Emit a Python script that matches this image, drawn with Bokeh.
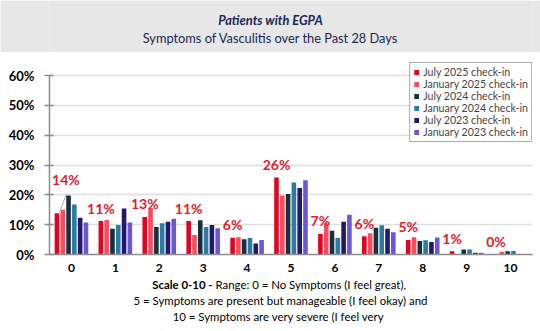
import numpy as np
from bokeh.plotting import figure
from bokeh.layouts import column
from bokeh.models import (FixedTicker, PrintfTickFormatter, Range1d, Legend, LegendItem)
from bokeh.core.properties import value
from bokeh.embed import file_html
from bokeh.resources import INLINE

# ---------------- data ----------------
scale_points = ["0", "1", "2", "3", "4", "5", "6", "7", "8", "9", "10"]
series_names = ["July 2025 check-in", "January 2025 check-in", "July 2024 check-in",
                "January 2024 check-in", "July 2023 check-in", "January 2023 check-in"]
july_2025 = [13.8, 11.2, 12.6, 11.2, 5.6, 25.8, 6.9, 6.1, 4.9, 1.1, 0.0]
january_2025 = [15.0, 11.6, 15.7, 6.5, 5.8, 19.8, 10.5, 7.1, 5.8, 0.0, 0.9]
july_2024 = [19.8, 8.6, 9.2, 11.5, 5.1, 20.3, 8.0, 9.0, 4.5, 1.7, 1.1]
january_2024 = [16.8, 9.9, 10.5, 9.2, 5.5, 24.1, 5.5, 9.8, 4.8, 1.7, 1.2]
july_2023 = [12.3, 15.4, 11.0, 9.9, 3.7, 22.3, 11.0, 8.6, 4.2, 0.6, 0.0]
january_2023 = [10.7, 10.7, 12.0, 8.8, 4.9, 24.9, 13.3, 7.5, 5.7, 0.6, 0.0]
y_ticks = [0, 10, 20, 30, 40, 50, 60]

title_text = "Patients with EGPA"
subtitle_text = "Symptoms of Vasculitis over the Past 28 Days"
footer_bold = "Scale 0-10 -"
footer_line1 = "Range: 0 = No Symptoms (I feel great),"
footer_line2 = "5 = Symptoms are present but manageable (I feel okay) and"
footer_line3 = "10 = Symptoms are very severe (I feel very"

# ---------------- style ----------------
FONT = "Lato"
colors = ["#e8001f", "#ff4a5c", "#17303d", "#2a7ca6", "#25186a", "#6b57d6"]
label_color = "#e0202e"
axis_color = "#8c8c8c"
W = 540
HDR_H, MAIN_H, FTR_H = 52, 226, 53
FRAME_L, FRAME_R = 49, 532   # plot frame edges (px); column layouts align all frames

# ---------------- header ----------------
hdr = figure(width=W, height=HDR_H, x_range=Range1d(FRAME_L, FRAME_R), y_range=Range1d(0, HDR_H),
             x_axis_type=None, y_axis_type=None, toolbar_location=None,
             output_backend="svg", min_border=0)
hdr.grid.visible = False
hdr.background_fill_color = "#e7e7e7"
hdr.border_fill_color = "#e7e7e7"
hdr.outline_line_color = None
hdr.text(x=[W / 2], y=[HDR_H - 19], text=[title_text], text_font=value(FONT),
         text_font_style="bold italic", text_font_size="12.8px", text_color="#1b2658",
         text_align="center", text_baseline="middle")
hdr.text(x=[W / 2], y=[HDR_H - 37], text=[subtitle_text], text_font=value(FONT),
         text_font_size="12.8px", text_color="#1b2658",
         text_align="center", text_baseline="middle")

# ---------------- main chart ----------------
n_cat = len(scale_points)
px_per_cat = (FRAME_R - FRAME_L) / 11.0
px_per_pct = 179 / 60.0
step = 5.8 / px_per_cat
bar_w = 4.6 / px_per_cat
y_top = 60 + 13 / px_per_pct

p = figure(width=W, height=MAIN_H, x_range=Range1d(-0.5, n_cat - 0.5), y_range=Range1d(0, y_top),
           toolbar_location=None, output_backend="svg",
           min_border_left=FRAME_L, min_border_right=W - FRAME_R, min_border_top=10, min_border_bottom=24)
p.background_fill_color = "white"
p.border_fill_color = "white"
p.outline_line_color = None
p.xgrid.visible = False
p.ygrid.ticker = FixedTicker(ticks=y_ticks)
p.ygrid.grid_line_color = "#dedede"
p.ygrid.grid_line_width = 1.5

p.yaxis.ticker = FixedTicker(ticks=y_ticks)
p.yaxis.bounds = (0, 60)
p.yaxis.formatter = PrintfTickFormatter(format="%d%%")
p.yaxis.major_label_text_font = FONT
p.yaxis.major_label_text_font_style = "bold"
p.yaxis.major_label_text_font_size = "13px"
p.yaxis.major_label_text_color = "black"
p.yaxis.axis_line_color = axis_color
p.yaxis.axis_line_width = 1.5
p.yaxis.major_tick_line_color = axis_color
p.yaxis.major_tick_line_width = 1.5
p.yaxis.major_tick_in = 4
p.yaxis.major_tick_out = 5
p.yaxis.minor_tick_line_color = None
p.yaxis.major_label_standoff = 10

p.xaxis.ticker = FixedTicker(ticks=list(range(n_cat)))
p.xaxis.major_label_overrides = {i: s for i, s in enumerate(scale_points)}
p.xaxis.major_label_text_font = FONT
p.xaxis.major_label_text_font_style = "bold"
p.xaxis.major_label_text_font_size = "12px"
p.xaxis.major_label_text_color = "black"
p.xaxis.axis_line_color = axis_color
p.xaxis.axis_line_width = 1.5
p.xaxis.major_tick_line_color = None
p.xaxis.major_tick_out = 0
p.xaxis.major_tick_in = 0
p.xaxis.minor_tick_line_color = None
p.xaxis.major_label_standoff = 9

series = [july_2025, january_2025, july_2024, january_2024, july_2023, january_2023]
cats = np.arange(n_cat)
items = []
xs = []
for i, (name, vals, col) in enumerate(zip(series_names, series, colors)):
    x = cats + (i - 2.5) * step
    xs.append(x)
    r = p.vbar(x=x, top=vals, width=bar_w, fill_color=col, line_color=None)
    items.append(LegendItem(label=name, renderers=[r]))

legend = Legend(items=items, location="top_right", margin=0, padding=3, spacing=0,
                label_text_font=FONT, label_text_font_size="10.6px", label_height=11,
                glyph_width=6, glyph_height=6, label_standoff=4,
                border_line_color="#555555", border_line_width=1,
                background_fill_color="white", background_fill_alpha=1.0)
p.add_layout(legend)

# data labels for the latest check-in
red_x = xs[0]
labels = [f"{int(v + 0.5)}%" for v in july_2025]
p.text(x=red_x[1:], y=july_2025[1:], text=labels[1:], text_font=value(FONT),
       text_font_style="bold", text_font_size="14px", text_color=label_color,
       text_align="center", text_baseline="middle", y_offset=-13)
p.text(x=red_x[:1], y=july_2025[:1], text=labels[:1], text_font=value(FONT),
       text_font_style="bold", text_font_size="14px", text_color=label_color,
       text_align="center", text_baseline="middle", x_offset=9, y_offset=-34)
p.segment(x0=[red_x[0] + bar_w / 2], y0=[july_2025[0]],
          x1=[red_x[0] + bar_w / 2 + 7 / px_per_cat], y1=[july_2025[0] + 19 / px_per_pct],
          line_color="#b0b0b0", line_width=1)

# ---------------- footer ----------------
ftr = figure(width=W, height=FTR_H, x_range=Range1d(FRAME_L, FRAME_R), y_range=Range1d(0, FTR_H),
             x_axis_type=None, y_axis_type=None, toolbar_location=None,
             output_backend="svg", min_border=0)
ftr.grid.visible = False
ftr.background_fill_color = "white"
ftr.border_fill_color = "white"
ftr.outline_line_color = None
common = dict(text_font=value(FONT), text_font_size="11.4px", text_color="black",
              text_baseline="middle")
ftr.text(x=[212], y=[FTR_H - 6], text=[footer_bold], text_font_style="bold",
         text_align="right", **common)
ftr.text(x=[215], y=[FTR_H - 6], text=[footer_line1], text_align="left", **common)
ftr.text(x=[280], y=[FTR_H - 22], text=[footer_line2], text_align="center", **common)
ftr.text(x=[278], y=[FTR_H - 38], text=[footer_line3], text_align="center", **common)

layout = column(hdr, p, ftr, spacing=0)
open("out.html", "w").write(file_html(layout, INLINE))
